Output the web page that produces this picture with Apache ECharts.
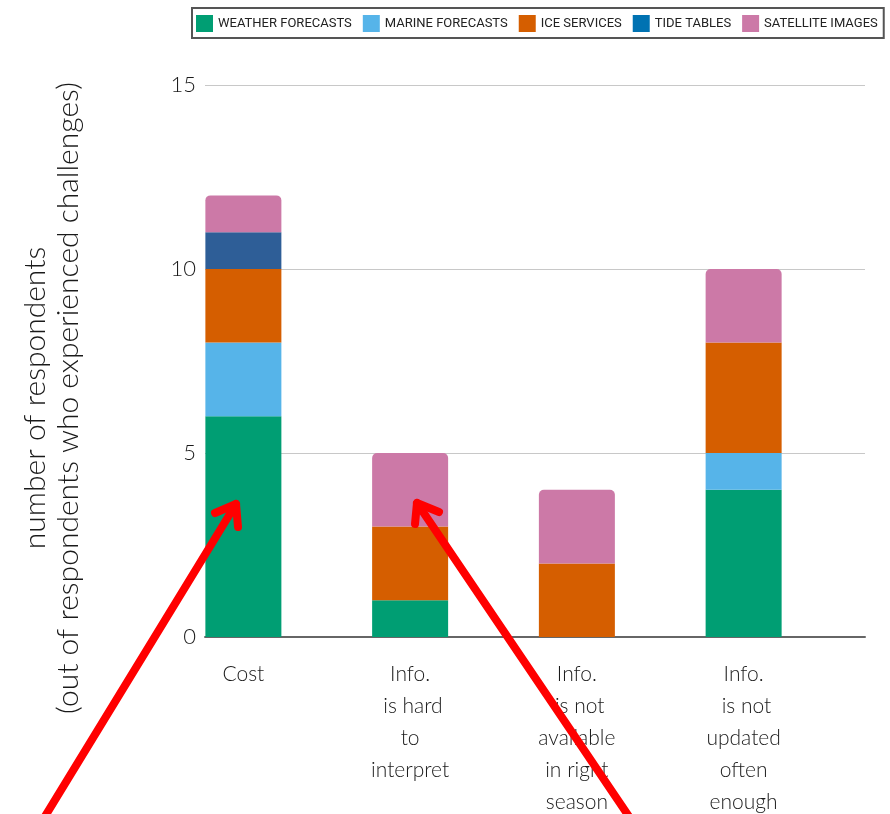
<!DOCTYPE html>
<html><head><meta charset="utf-8">
<script src="https://cdn.jsdelivr.net/npm/echarts@6/dist/echarts.min.js"></script>
<style>html,body{margin:0;padding:0;background:#fff}#c{width:890px;height:814px}</style>
</head><body><div id="c"></div>
<script>
const categories = ["Cost", "Info.\n is hard\nto\ninterpret", "Info.\n is not\navailable\nin right\nseason", "Info.\n is not\nupdated\noften\nenough"];
const seriesNames = ["WEATHER FORECASTS", "MARINE FORECASTS", "ICE SERVICES", "TIDE TABLES", "SATELLITE IMAGES"];
const weatherForecasts = [6, 1, 0, 4];
const marineForecasts = [2, 0, 0, 1];
const iceServices = [2, 2, 2, 3];
const tideTables = [1, 0, 0, 0];
const satelliteImages = [1, 2, 2, 2];
const yTicks = [0, 5, 10, 15];
const colors = ["#009e73", "#56b4e9", "#d55e00", "#0072b2", "#cc79a7"];

const chart = echarts.init(document.getElementById('c'), null, {renderer: 'canvas'});
const font = 'Lato, "Noto Sans", sans-serif';
const allData = [weatherForecasts, marineForecasts, iceServices, tideTables, satelliteImages];
const series = allData.map((d, i) => ({
  name: seriesNames[i], type: 'bar', stack: 'total', xAxisIndex: 1, yAxisIndex: 1,
  barWidth: 76,
  itemStyle: {color: colors[i], borderRadius: i === 4 ? [5, 5, 0, 0] : 0},
  data: d.map(v => i === 3 ? {value: v, itemStyle: {color: '#2e5e97'}} : v)
}));

function arrow(tip, tail, a1, a2) {
  const st = {stroke: '#ff0000', lineWidth: 8, lineCap: 'round', lineJoin: 'round'};
  return [
    {type: 'line', shape: {x1: tail[0], y1: tail[1], x2: tip[0], y2: tip[1]}, style: st, z: 100},
    {type: 'polyline', shape: {points: [a1, tip, a2]}, style: Object.assign({fill: null}, st), z: 100}
  ];
}

chart.setOption({
  animation: false,
  backgroundColor: '#fff',
  legend: {
    left: 192, top: 8, width: 1000,
    padding: [7, 6, 6, 4], itemGap: 11, itemWidth: 17, itemHeight: 17,
    borderColor: '#555', borderWidth: 2, borderRadius: 0,
    icon: 'rect',
    textStyle: {fontFamily: 'Roboto, sans-serif', fontSize: 13, color: '#222', padding: [0, 0, 0, 0]},
    data: seriesNames
  },
  grid: [
    {left: 205, right: 25, top: 85, bottom: 177, outerBoundsMode: 'none', containLabel: false},
    {left: 160, width: 667, top: 85, bottom: 177, outerBoundsMode: 'none', containLabel: false}
  ],
  xAxis: [
    {type: 'value', gridIndex: 0, min: 0, max: 1, show: true,
      axisLine: {show: true, onZero: false, lineStyle: {color: '#666', width: 2}},
      axisTick: {show: false}, axisLabel: {show: false}, splitLine: {show: false}},
    {type: 'category', gridIndex: 1, data: categories,
      axisLine: {show: false}, axisTick: {show: false},
      axisLabel: {margin: 21, interval: 0, fontFamily: font, fontWeight: 300, fontSize: 21, lineHeight: 32, color: '#1a1a1a', align: 'center'}}
  ],
  yAxis: [
    {type: 'value', gridIndex: 0, min: 0, max: 15, interval: 5,
      axisLine: {show: false}, axisTick: {show: false},
      axisLabel: {margin: 9, fontFamily: font, fontWeight: 300, fontSize: 22, color: '#1a1a1a'},
      splitLine: {lineStyle: {color: '#c8c8c8', width: 1}}},
    {type: 'value', gridIndex: 1, min: 0, max: 15, interval: 5, show: false, splitLine: {show: false}}
  ],
  series: series,
  graphic: [
    {type: 'text', x: 52, y: 398, rotation: Math.PI / 2,
      style: {text: 'number of respondents\n(out of respondents who experienced challenges)',
        fontFamily: font, fontWeight: 300, fontSize: 30, lineHeight: 33, fill: '#1a1a1a', align: 'center', verticalAlign: 'middle'}},
    ...arrow([236, 504], [44, 818], [215, 513], [238, 527]),
    ...arrow([417, 503], [630, 818], [439, 512], [415, 524])
  ]
});
</script></body></html>
